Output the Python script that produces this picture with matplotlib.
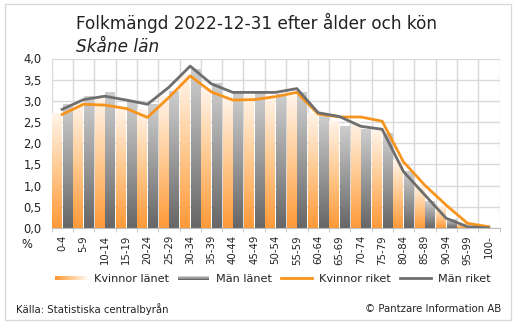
import numpy as np
import matplotlib
matplotlib.use('Agg')
import matplotlib.pyplot as plt
from matplotlib.colors import LinearSegmentedColormap
from matplotlib.patches import Rectangle
from matplotlib.legend_handler import HandlerBase
from matplotlib.lines import Line2D

age_groups = ['0-4', '5-9', '10-14', '15-19', '20-24', '25-29', '30-34', '35-39',
              '40-44', '45-49', '50-54', '55-59', '60-64', '65-69', '70-74', '75-79',
              '80-84', '85-89', '90-94', '95-99', '100-']

kvinnor_lanet = [2.70, 2.95, 3.05, 2.85, 2.80, 3.10, 3.60, 3.29, 3.05, 3.12, 3.12,
                 3.10, 2.70, 2.51, 2.51, 2.29, 1.60, 1.00, 0.50, 0.11, 0.01]
man_lanet = [2.92, 3.10, 3.20, 2.98, 2.92, 3.21, 3.73, 3.41, 3.18, 3.18, 3.15,
             3.20, 2.64, 2.40, 2.33, 2.23, 1.33, 0.62, 0.21, 0.03, 0.00]
kvinnor_riket = [2.68, 2.92, 2.90, 2.82, 2.61, 3.08, 3.59, 3.21, 3.02, 3.03, 3.10,
                 3.20, 2.69, 2.62, 2.62, 2.52, 1.56, 1.01, 0.54, 0.11, 0.03]
man_riket = [2.80, 3.03, 3.11, 3.02, 2.92, 3.32, 3.82, 3.40, 3.20, 3.20, 3.20,
             3.29, 2.72, 2.63, 2.40, 2.33, 1.33, 0.78, 0.23, 0.03, 0.00]

plt.rcParams['font.family'] = 'DejaVu Sans'

orange_cmap = LinearSegmentedColormap.from_list('og', ['#FF9A3A', '#FFC98F', '#FFF3E8'])
gray_cmap = LinearSegmentedColormap.from_list('gr', ['#676767', '#9A9A9A', '#CDCDCD'])
grad = np.linspace(0, 1, 64).reshape(-1, 1)

fig = plt.figure(figsize=(5.2, 3.26), dpi=100)
fig.patches.append(Rectangle((5 / 520, 1 - 320 / 326), 506 / 520, 316 / 326,
                             transform=fig.transFigure, fill=False,
                             edgecolor='#D9D9D9', linewidth=1))

ax = fig.add_axes([51.5 / 520, 1 - 228 / 326, 448 / 520, 169.5 / 326])
x = np.arange(len(age_groups))

bars_k = ax.bar(x - 0.25, kvinnor_lanet, width=0.5, color='none', edgecolor='none')
bars_m = ax.bar(x + 0.25, man_lanet, width=0.5, color='none', edgecolor='none')


def fill_gradient(bars, cmap):
    for b in bars:
        bx, by = b.get_x(), b.get_y()
        w, h = b.get_width(), b.get_height()
        if h <= 0:
            continue
        ax.imshow(grad, cmap=cmap, origin='lower', aspect='auto',
                  extent=(bx + 0.03, bx + w - 0.03, by, by + h), zorder=2)


fill_gradient(bars_k, orange_cmap)
fill_gradient(bars_m, gray_cmap)

ax.plot(x, kvinnor_riket, color='#F7941D', linewidth=2.0, zorder=4)
ax.plot(x, man_riket, color='#6E6E6E', linewidth=2.0, zorder=5)

ax.set_xlim(-0.5, len(age_groups) - 0.5)
ax.set_ylim(0, 4)
ax.set_yticks(np.arange(0, 4.01, 0.5))
ax.set_yticklabels([f'{v:.1f}'.replace('.', ',') for v in np.arange(0, 4.01, 0.5)],
                   fontsize=8.3, color='#222222')
ax.set_xticks(x)
ax.set_xticklabels(age_groups, rotation=90, fontsize=7.3, color='#222222')
ax.set_xticks(np.arange(-0.5, len(age_groups), 1), minor=True)
ax.tick_params(axis='x', which='major', length=0, pad=5)
ax.tick_params(axis='x', which='minor', length=3, color='#BFBFBF')
ax.tick_params(axis='y', length=0, pad=7)
ax.grid(True, which='minor', axis='x', color='#D9D9D9', linewidth=1, zorder=0)
ax.grid(True, which='major', axis='y', color='#D9D9D9', linewidth=1, zorder=0)
ax.set_axisbelow(True)
for s in ['top', 'right', 'left']:
    ax.spines[s].set_visible(False)
ax.spines['bottom'].set_color('#BFBFBF')
ax.spines['bottom'].set_zorder(6)

fig.text(32 / 520, 1 - 244 / 326, '%', fontsize=8.3, ha='right', va='center', color='#222222')

fig.text(76 / 520, 1 - 29 / 326, 'Folkmängd 2022-12-31 efter ålder och kön',
         fontsize=12.2, ha='left', va='baseline', color='#222222')
fig.text(76 / 520, 1 - 51.5 / 326, 'Skåne län', fontsize=12.2, style='italic',
         ha='left', va='baseline', color='#222222')

fig.text(16 / 520, 1 - 309 / 326, 'Källa: Statistiska centralbyrån', fontsize=7.3,
         ha='left', va='center', color='#222222')
fig.text(501 / 520, 1 - 309 / 326, '© Pantzare Information AB', fontsize=7.3,
         ha='right', va='center', color='#222222')


class GradientHandler(HandlerBase):
    def __init__(self, colors, vertical=False):
        super().__init__()
        self.colors = colors
        self.vertical = vertical

    def create_artists(self, legend, orig_handle, xdescent, ydescent, width, height,
                       fontsize, trans):
        arts = []
        n = len(self.colors)
        h = height * 0.5
        y0 = -ydescent + (height - h) / 2
        for i, c in enumerate(self.colors):
            if self.vertical:
                r = Rectangle((-xdescent, y0 + h * i / n), width, h / n,
                              facecolor=c, edgecolor='none', transform=trans)
            else:
                r = Rectangle((-xdescent + width * i / n, y0), width / n + 0.2, h,
                              facecolor=c, edgecolor='none', transform=trans)
            arts.append(r)
        return arts


k_cols = [orange_cmap(v) for v in np.linspace(0, 1, 12)]
m_cols = [gray_cmap(v) for v in np.linspace(0, 1, 6)]
hk = Rectangle((0, 0), 1, 1)
hm = Rectangle((0, 0), 1, 1)
hkr = Line2D([], [], color='#F7941D', linewidth=2.0)
hmr = Line2D([], [], color='#6E6E6E', linewidth=2.0)
fig.legend([hk, hm, hkr, hmr], ['Kvinnor länet', 'Män länet', 'Kvinnor riket', 'Män riket'],
           handler_map={hk: GradientHandler(k_cols), hm: GradientHandler(m_cols, vertical=True)},
           loc='center', bbox_to_anchor=(273 / 520, 1 - 279 / 326), ncol=4, frameon=False,
           fontsize=8.1, handlelength=2.8, handletextpad=0.6, columnspacing=0.8,
           labelcolor='#222222')

fig.savefig('out.png', dpi=100)
